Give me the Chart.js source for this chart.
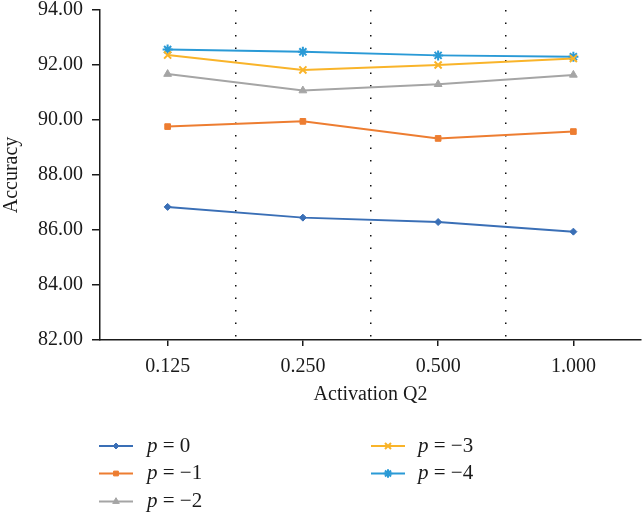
<!DOCTYPE html>
<html>
<head>
<meta charset="utf-8">
<script src="https://cdn.jsdelivr.net/npm/chart.js@4.4.1/dist/chart.umd.min.js"></script>
<style>
  html, body { margin: 0; padding: 0; background: #ffffff; }
  #wrap { width: 642px; height: 530px; }
</style>
</head>
<body>
<div id="wrap"><canvas id="c" width="642" height="530"></canvas></div>
<script>
const categories = ['0.125', '0.250', '0.500', '1.000'];
const seriesLabels = ['p = 0', 'p = \u22121', 'p = \u22122', 'p = \u22123', 'p = \u22124'];
const pZero = [86.84, 86.45, 86.29, 85.94];
const pMinus1 = [89.76, 89.95, 89.33, 89.58];
const pMinus2 = [91.67, 91.07, 91.30, 91.64];
const pMinus3 = [92.36, 91.82, 92.00, 92.24];
const pMinus4 = [92.56, 92.48, 92.35, 92.30];
const yMin = 82, yMax = 94, yStep = 2;

const colors = ['#3A6FB6', '#ED7D31', '#A5A5A5', '#F9B42A', '#2A9AD6'];
const styles = ['rectRot', 'rect', 'triangle', 'crossRot', 'star'];
const radii = [3.5, 4, 4.5, 5, 5];
const values = [pZero, pMinus1, pMinus2, pMinus3, pMinus4];

const FONT = "'Liberation Serif', 'DejaVu Serif', serif";
const INK = '#1a1a1a';

const datasets = values.map((v, i) => ({
  label: seriesLabels[i],
  data: v,
  borderColor: colors[i],
  backgroundColor: colors[i],
  borderWidth: 2,
  pointStyle: styles[i],
  pointRadius: radii[i],
  pointBorderWidth: (styles[i] === 'crossRot' || styles[i] === 'star') ? 2 : 1,
  pointBackgroundColor: colors[i],
  pointBorderColor: colors[i],
  tension: 0,
  clip: false,
  xAxisID: 'x',
  yAxisID: 'y'
}));

const legendPlugin = {
  id: 'colLegend',
  afterDraw(chart) {
    const ctx = chart.ctx;
    const ds = chart.data.datasets;
    const cols = [{lx: 99, tx: 147}, {lx: 371, tx: 418}];
    const rows = [446, 473.5, 501.5];
    ds.forEach((d, i) => {
      const col = i < 3 ? cols[0] : cols[1];
      const y = i < 3 ? rows[i] : rows[i - 3];
      ctx.save();
      ctx.strokeStyle = d.borderColor;
      ctx.lineWidth = 2;
      ctx.beginPath();
      ctx.moveTo(col.lx, y);
      ctx.lineTo(col.lx + 34, y);
      ctx.stroke();
      ctx.fillStyle = d.backgroundColor;
      ctx.strokeStyle = d.borderColor;
      ctx.lineWidth = d.pointBorderWidth;
      if (Chart.helpers && Chart.helpers.drawPoint) {
        Chart.helpers.drawPoint(ctx, {
          pointStyle: d.pointStyle,
          radius: d.pointRadius * 0.85,
          rotation: 0,
          borderWidth: d.pointBorderWidth
        }, col.lx + 17, y);
      }
      ctx.fillStyle = INK;
      ctx.textBaseline = 'middle';
      ctx.textAlign = 'left';
      const first = d.label.charAt(0);
      const rest = d.label.slice(1);
      ctx.font = "italic 21px " + FONT;
      ctx.fillText(first, col.tx, y);
      const w = ctx.measureText(first).width;
      ctx.font = "21px " + FONT;
      ctx.fillText(rest, col.tx + w, y);
      ctx.restore();
    });
  }
};

new Chart(document.getElementById('c'), {
  type: 'line',
  data: { labels: categories, datasets: datasets },
  options: {
    responsive: false,
    animation: false,
    devicePixelRatio: 1,
    layout: { autoPadding: false, padding: { top: 10, right: 1, bottom: 119, left: 0 } },
    plugins: { legend: { display: false }, tooltip: { enabled: false } },
    scales: {
      x: {
        type: 'category',
        position: 'bottom',
        offset: true,
        grid: { display: true, offset: false, drawOnChartArea: false, drawTicks: true, tickLength: 6, color: INK, lineWidth: 1.5 },
        border: { display: true, color: INK, width: 1.5 },
        ticks: { color: INK, font: { family: FONT, size: 20 }, padding: 9, maxRotation: 0 },
        title: { display: true, text: 'Activation Q2', color: INK, font: { family: FONT, size: 20 }, padding: { top: 2, bottom: 4 } },
        afterFit(scale) { scale.height = 71; scale.paddingLeft = 0; scale.paddingRight = 0; }
      },
      xg: {
        type: 'category',
        position: 'top',
        offset: true,
        grid: {
          display: true, offset: true, drawOnChartArea: true, drawTicks: false, lineWidth: 1.5,
          color: (ctx) => (ctx.type !== 'tick' || ctx.index === 0 || ctx.index === undefined || ctx.index >= categories.length) ? 'rgba(0,0,0,0)' : '#111111'
        },
        border: { display: false, dash: [1.5, 11] },
        ticks: { display: false },
        title: { display: false },
        afterFit(scale) { scale.height = 0; scale.paddingLeft = 0; scale.paddingRight = 0; }
      },
      y: {
        type: 'linear',
        position: 'left',
        min: yMin,
        max: yMax,
        grid: { display: true, drawOnChartArea: false, drawTicks: true, tickLength: 8, color: INK, lineWidth: 1.5 },
        border: { display: true, color: INK, width: 1.5 },
        ticks: { stepSize: yStep, color: INK, font: { family: FONT, size: 20 }, padding: 9, callback: (v) => Number(v).toFixed(2) },
        title: { display: true, text: 'Accuracy', color: INK, font: { family: FONT, size: 20 }, padding: { top: 0, bottom: 2 } },
        afterFit(scale) { scale.width = 100; scale.paddingTop = 0; scale.paddingBottom = 0; }
      }
    }
  },
  plugins: [legendPlugin]
});
</script>
</body>
</html>
